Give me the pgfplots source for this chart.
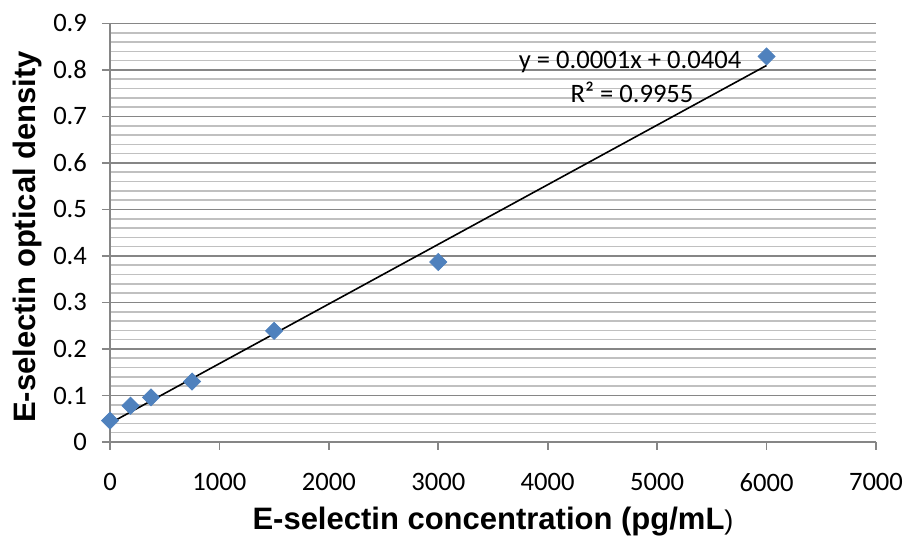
\documentclass[border=0pt]{standalone}
\usepackage{fontspec}
\setmainfont{Carlito}
\newfontfamily\arialf{Liberation Sans}
\usepackage{pgfplots}
\pgfplotsset{compat=1.18}
\definecolor{mblue}{HTML}{4F81BD}
\definecolor{majg}{HTML}{868686}
\definecolor{ming}{HTML}{C0C0C0}
\begin{document}
\begin{tikzpicture}
\useasboundingbox (-55pt,-47pt) rectangle (398.5pt,221pt);
\begin{axis}[
  scale only axis,
  width=383pt, height=209.3pt,
  xmin=0, xmax=7000, ymin=0, ymax=0.9,
  xtick={0,1000,...,7000},
  ytick={0,0.1,...,0.9},
  yticklabels={0,0.1,0.2,0.3,0.4,0.5,0.6,0.7,0.8,0.9},
  minor y tick num=4,
  axis x line=bottom, axis y line=left,
  axis line style={-, majg, line width=0.8pt},
  tick align=outside,
  major tick length=4pt, minor tick length=0pt,
  tick style={majg, line width=0.8pt},
  ymajorgrids, yminorgrids,
  major grid style={majg, line width=0.8pt},
  minor grid style={ming, line width=0.8pt},
  /pgf/number format/assume math mode=true,
  scaled x ticks=false,
  xticklabel={\pgfmathprintnumber[fixed,1000 sep={}]{\tick}},
  ticklabel style={font=\fontsize{13.3}{15}\selectfont},
  xticklabel style={yshift=-8pt},
  yticklabel style={xshift=-4pt},
  xlabel={\arialf\bfseries E-selectin concentration (pg/mL{\mdseries\fontsize{13.5}{16}\selectfont )}},
  ylabel={\arialf\bfseries E-selectin optical density},
  label style={font=\fontsize{15.5}{18}\selectfont},
  xlabel style={at={(axis description cs:0.5,0)}, anchor=base, yshift=-44pt},
  ylabel style={at={(axis description cs:-0.0979,0.49)}, anchor=base},
  clip=false,
]
\addplot[black, line width=0.8pt, forget plot] coordinates {(0,0.0404) (6000,0.8096)};
\addplot[only marks, mark=square*, mark size=3pt, mark options={rotate=45, fill=mblue, draw=mblue}]
coordinates {
(0,0.046) (187.5,0.078) (375,0.096) (750,0.130) (1500,0.239) (3000,0.387) (6000,0.829)
};
\node[font=\fontsize{13.3}{15}\selectfont, anchor=center] at (axis cs:4753,0.817) {y = 0.0001x + 0.0404};
\node[font=\fontsize{13.3}{15}\selectfont, anchor=center] at (axis cs:4771,0.751) {R² = 0.9955};
\end{axis}
\end{tikzpicture}
\end{document}
